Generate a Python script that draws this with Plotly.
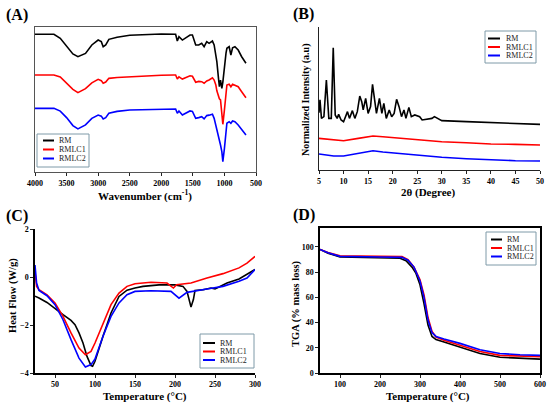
import plotly.graph_objects as go

W, H = 550, 406

# --- (A) FTIR ---
ftir_wn = [4000, 3700, 3600, 3500, 3400, 3320, 3200, 3100, 3000, 2950, 2920, 2880, 2830, 2700,
           2500, 2000, 1800, 1773, 1746, 1720, 1666, 1545, 1507, 1455, 1407, 1360, 1322, 1280,
           1243, 1190, 1163, 1136, 1120, 1094, 1080, 1062, 1041, 1025, 1000, 975, 961, 925,
           898, 871, 834, 782, 727, 659]
ftir_rm = [95, 95, 92.2, 86.4, 81.4, 79.5, 81.8, 87.6, 91.0, 89.9, 86.4, 87.6, 91.5, 92.9,
           94.3, 95.2, 95.2, 95, 90.3, 93.3, 91, 94.5, 94.5, 87.6, 87.6, 88.7, 86.4, 89.9,
           88.7, 90.3, 87.6, 81.8, 76.1, 64.6, 58.8, 63.4, 57.7, 62, 75, 82, 85.3, 86.4,
           80.7, 85.7, 86.4, 84.1, 79.5, 75]
ftir_lc1 = [66.9, 66.9, 65.5, 61.5, 57, 54.7, 57.5, 61.5, 63.9, 63, 61.2, 62, 64.6, 65.2,
            65.7, 66.7, 66.9, 66.9, 64.1, 65.7, 64.1, 66.4, 66, 61.9, 62.5, 62.3, 61.2, 62.8,
            63.5, 65, 63.4, 60, 56, 51.9, 50.5, 49.7, 41.6, 32.9, 42.8, 56.6, 60, 60.5,
            58.8, 60.5, 60, 58.8, 55.4, 51.2]
ftir_lc2 = [43.9, 43.9, 42, 37.5, 32, 29.7, 32.5, 37, 39.3, 38.5, 36.6, 37.5, 40.5, 41.8,
            42.8, 43.4, 43.4, 43.4, 40.5, 42.1, 39.3, 42.1, 41.8, 37, 37.5, 38.1, 36.6, 38.9,
            39.2, 39.8, 37, 32.4, 28, 23.2, 21, 18.6, 14, 7.1, 16.3, 30.1, 33.6, 34.7,
            33.6, 35.2, 34.7, 32.4, 29, 25.5]

# --- (B) XRD ---
xrd_2theta = [5, 5.2, 5.5, 6, 6.5, 7, 7.5, 7.9, 8.3, 8.7, 9.0, 9.5, 10, 10.5, 10.8, 11.2,
              11.8, 12.3, 12.8, 13.3, 13.7, 14, 14.5, 15, 15.5, 15.9, 16.3, 16.7, 17.3, 17.8,
              18.2, 18.7, 19.3, 19.8, 20.3, 20.8, 21.3, 21.8, 22.3, 22.7, 23.3, 23.8, 24.5,
              25, 25.5, 26, 27, 28, 28.5, 30, 35, 40, 45, 50]
xrd_rm = [40, 49.0, 36.1, 37.3, 62.9, 36.1, 36.1, 85.5, 38.5, 36.1, 38.9, 35.0, 33.8, 38.5,
          40.8, 36.1, 41.5, 36.1, 40.8, 51.7, 47.8, 42.0, 50.1, 39.6, 44.3, 59.9, 50.1,
          39.6, 50.1, 39.6, 46.6, 36.1, 42.0, 37.3, 39.6, 49.4, 44.3, 37.3, 42.0, 36.1,
          43.8, 37.3, 38.5, 37.8, 37.3, 35.0, 35.7, 36.1, 37.3, 34.5, 33.8, 33.3, 32.6, 31.9]
xrd_2theta_am = [5, 8, 10, 13, 16, 18, 22, 25, 30, 35, 40, 45, 50]
xrd_lc1 = [22.1, 21.0, 20.5, 22.1, 23.8, 23.3, 22.1, 21.0, 19.8, 19.1, 18.2, 17.9, 17.5]
xrd_lc2 = [11.2, 9.8, 9.8, 11.7, 13.5, 12.6, 11.2, 10.3, 8.9, 7.9, 7.0, 6.5, 6.3]

# --- (C) DSC ---
dsc_t_rm = [25, 30, 40, 50, 60, 70, 75, 80, 85, 90, 95, 97, 100, 110, 120, 130, 140, 150,
            160, 180, 200, 210, 215, 220, 223, 225, 235, 245, 250, 255, 265, 280, 290, 300]
dsc_rm = [-0.8, -0.875, -1.06, -1.33, -1.57, -1.81, -1.99, -2.33, -2.75, -3.31, -3.69, -3.72,
          -3.51, -2.47, -1.5, -0.81, -0.55, -0.46, -0.39, -0.33, -0.33, -0.39, -0.6, -1.25,
          -0.94, -0.56, -0.53, -0.46, -0.5, -0.42, -0.25, -0.08, 0.1, 0.31]
dsc_t_lc1 = [25, 27, 30, 40, 50, 60, 70, 80, 88, 95, 100, 110, 120, 130, 140, 150, 170, 190,
             198, 202, 220, 240, 260, 280, 290, 300]
dsc_lc1 = [0.2, -0.39, -0.53, -0.74, -1.08, -1.64, -2.33, -2.96, -3.24, -3.1, -2.75, -1.92,
           -1.15, -0.67, -0.39, -0.28, -0.22, -0.25, -0.46, -0.32, -0.25, -0.04, 0.14, 0.38,
           0.58, 0.86]
dsc_t_lc2 = [25, 27, 30, 40, 50, 60, 70, 80, 88, 95, 100, 110, 120, 130, 140, 150, 170, 195,
             205, 215, 240, 260, 280, 290, 300]
dsc_lc2 = [0.5, -0.25, -0.56, -0.78, -1.15, -1.78, -2.61, -3.38, -3.75, -3.65, -3.42, -2.47,
           -1.64, -1.08, -0.74, -0.6, -0.57, -0.6, -0.88, -0.64, -0.5, -0.39, -0.18, -0.04, 0.31]

# --- (D) TGA ---
tga_t = [50, 70, 100, 150, 200, 250, 265, 280, 290, 300, 310, 320, 330, 340, 360, 400, 450,
         500, 550, 600]
tga_rm = [98, 95, 92, 91.5, 91.5, 91, 89, 84, 79, 70, 55, 38, 29, 26.5, 24.5, 20.5, 15.5,
          12.5, 11.5, 11]
tga_t2 = [50, 70, 100, 150, 200, 255, 270, 285, 300, 310, 320, 330, 340, 360, 400, 450, 500,
          550, 600]
tga_lc1 = [98, 95.5, 93, 92.5, 92.5, 92.3, 90, 84, 74, 62, 44, 33, 28.5, 26, 22, 17, 14,
           13.5, 13]
tga_lc2 = [98, 95.3, 92.5, 92, 92, 91.7, 89.5, 84, 73, 60, 42, 32, 29, 27, 23.5, 18.5, 15.5,
           14.5, 14]

names = ["RM", "RMLC1", "RMLC2"]
colors = ["#000000", "#ff0000", "#0000ff"]
serif = "Liberation Serif"

fig = go.Figure()

def add(x, y, i, xa, ya):
    fig.add_trace(go.Scatter(x=x, y=y, mode="lines", name=names[i], xaxis=xa, yaxis=ya,
                             showlegend=False, line=dict(color=colors[i], width=1.6)))

for i, y in enumerate([ftir_rm, ftir_lc1, ftir_lc2]):
    add(ftir_wn, y, i, "x", "y")
add(xrd_2theta, xrd_rm, 0, "x2", "y2")
add(xrd_2theta_am, xrd_lc1, 1, "x2", "y2")
add(xrd_2theta_am, xrd_lc2, 2, "x2", "y2")
add(dsc_t_rm, dsc_rm, 0, "x3", "y3")
add(dsc_t_lc1, dsc_lc1, 1, "x3", "y3")
add(dsc_t_lc2, dsc_lc2, 2, "x3", "y3")
add(tga_t, tga_rm, 0, "x4", "y4")
add(tga_t2, tga_lc1, 1, "x4", "y4")
add(tga_t2, tga_lc2, 2, "x4", "y4")

def px(x):
    return x / W

def py(y):
    return 1 - y / H

tickf = dict(family=serif, size=8, color="black", weight="bold")
ax = dict(showline=True, linecolor="#222", linewidth=1.2, ticks="outside", ticklen=3,
          tickcolor="#222", showgrid=False, zeroline=False, tickfont=tickf, automargin=False)

fig.update_layout(
    width=W, height=H, margin=dict(l=0, r=0, t=0, b=0),
    plot_bgcolor="white", paper_bgcolor="white",
    xaxis=dict(ax, domain=[px(35), px(256)], range=[4000, 500], dtick=500, mirror=True,
               linecolor="#555"),
    yaxis=dict(ax, domain=[py(172), py(27)], range=[0, 100], ticks="", showticklabels=False,
               mirror=True, linecolor="#555"),
    xaxis2=dict(ax, domain=[px(319), px(540)], range=[5, 50], dtick=5, anchor="y2"),
    yaxis2=dict(ax, domain=[py(170), py(27)], range=[0, 100], ticks="", showticklabels=False,
                anchor="x2"),
    xaxis3=dict(ax, domain=[px(35), px(255)], range=[25, 300],
                tickvals=[50, 100, 150, 200, 250, 300], anchor="y3", linecolor="black",
                linewidth=1.5),
    yaxis3=dict(ax, domain=[py(373), py(229)], range=[-4, 2], dtick=2, anchor="x3",
                linecolor="black", linewidth=1.5),
    xaxis4=dict(ax, domain=[px(320), px(540)], range=[50, 600],
                tickvals=[100, 200, 300, 400, 500, 600], anchor="y4", mirror=True,
                linecolor="black", linewidth=1.5),
    yaxis4=dict(ax, domain=[py(373), py(228)], range=[0, 115],
                tickvals=[0, 20, 40, 60, 80, 100], anchor="x4", mirror=True,
                linecolor="black", linewidth=1.5),
)

# axis titles
titles = [
    ("Wavenumber (cm<sup>-1</sup>)", 145, 195, 0, 11),
    ("2θ (Degree)", 428, 193, 0, 11),
    ("Normalized Intensity (a.u)", 306, 100, -90, 10),
    ("Temperature (°C)", 145, 396, 0, 11),
    ("Heat Flow (W/g)", 13, 296, -90, 10.5),
    ("Temperature (°C)", 428, 396, 0, 11),
    ("TGA (% mass loss)", 296, 304, -90, 10.5),
]
for txt, x, y, ang, sz in titles:
    fig.add_annotation(text=f"<b>{txt}</b>", x=px(x), y=py(y), xref="paper", yref="paper",
                       xanchor="center", yanchor="middle", showarrow=False, textangle=ang,
                       font=dict(family=serif, size=sz, color="black"))

# panel letters
for txt, x, y in [("(A)", 4, 4), ("(B)", 291, 3), ("(C)", 4, 205), ("(D)", 291, 204)]:
    fig.add_annotation(text=f"<b>{txt}</b>", x=px(x), y=py(y), xref="paper", yref="paper",
                       xanchor="left", yanchor="top", showarrow=False,
                       font=dict(family=serif, size=16, color="black"))

# legends: box (x0, y0, x1, y1), line start/end x, text x, entry y's
legends = [
    ((37, 134, 89, 167), 43, 54, 57, [140.5, 149.5, 158.5]),
    ((485, 31, 536, 63), 488, 500, 504, [38.5, 47, 55.5]),
    ((200, 334, 254, 368), 203, 215, 218, [343, 351.5, 360]),
    ((486, 232, 536, 265), 491, 502, 505, [239.5, 248, 256.5]),
]
for (x0, y0, x1, y1), lx0, lx1, tx, ys in legends:
    fig.add_shape(type="rect", xref="paper", yref="paper", x0=px(x0), x1=px(x1),
                  y0=py(y0), y1=py(y1), line=dict(color="#7f9aa8", width=1),
                  fillcolor="white", layer="above")
    for i, yy in enumerate(ys):
        fig.add_shape(type="line", xref="paper", yref="paper", x0=px(lx0), x1=px(lx1),
                      y0=py(yy), y1=py(yy), line=dict(color=colors[i], width=2),
                      layer="above")
        fig.add_annotation(text=names[i], x=px(tx), y=py(yy), xref="paper", yref="paper",
                           xanchor="left", yanchor="middle", showarrow=False,
                           font=dict(family=serif, size=8, color="#222"))

# the page body has a default 8px margin; drop it so the figure fills the window
fig.write_html("out.html", config={"displayModeBar": False},
               post_script="document.body.style.margin='0';")
